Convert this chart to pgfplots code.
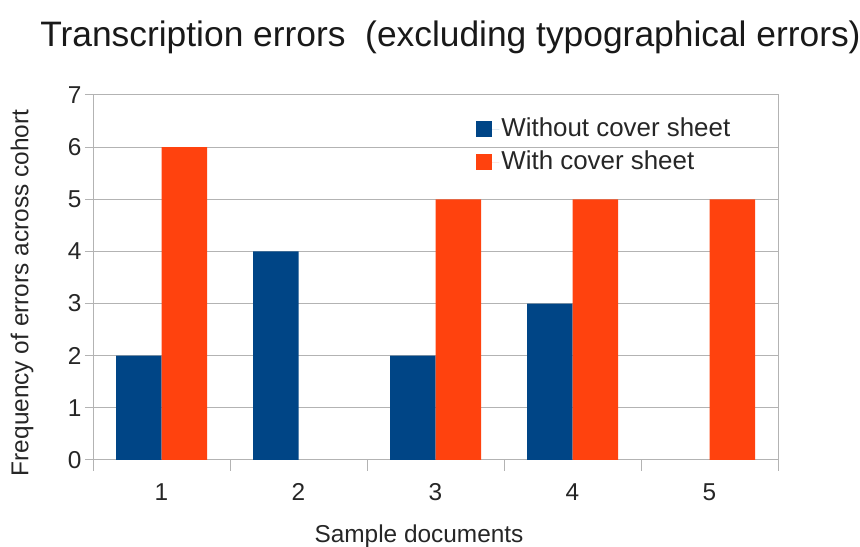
\documentclass[border=0pt]{standalone}
\usepackage{pgfplots}
\pgfplotsset{compat=1.18}
\usepackage{fontspec}
\setmainfont{Liberation Sans}
\definecolor{lblue}{HTML}{004586}
\definecolor{lorange}{HTML}{FF420E}
\definecolor{lgrid}{HTML}{B3B3B3}
\begin{document}
\begin{tikzpicture}[x=1bp,y=1bp]
\useasboundingbox (-93,-87) rectangle (767,460);
\begin{axis}[
  at={(0,0)}, anchor=south west,
  scale only axis, width=685bp, height=365bp,
  xmin=0.5, xmax=5.5, ymin=0, ymax=7,
  ybar=0pt, bar width=45.5bp,
  xtick={1,2,3,4,5},
  minor xtick={0.5,1.5,2.5,3.5,4.5,5.5},
  ytick={0,1,...,7},
  xtick pos=bottom, ytick pos=left,
  major x tick style={draw=none},
  tick align=outside,
  major tick length=8bp,
  minor tick length=11bp,
  every tick/.style={lgrid, line width=1pt},
  axis line style={lgrid, line width=1pt},
  ymajorgrids,
  grid style={lgrid, line width=1pt},
  tick label style={font=\fontsize{24.5}{28}\selectfont, text=black!85},
  xticklabel style={yshift=-12bp},
  /pgf/number format/assume math mode=true,
  legend cell align=left,
  legend style={draw=none, fill=none, at={(0.555,0.95)}, anchor=north west,
    font=\fontsize{26}{30}\selectfont, text=black!85, row sep=5bp,
    nodes={inner sep=2bp, text height=19bp, text depth=5bp}},
  legend image code/.code={\fill[#1] (0bp,-8bp) rectangle (16bp,8bp); \path (0bp,0bp) -- (23bp,0bp);},
  clip=false,
]
\addplot[fill=lblue, draw=none] coordinates {(1,2) (2,4) (3,2) (4,3)};
\addplot[fill=lorange, draw=none] coordinates {(1,6) (3,5) (4,5) (5,5)};
\legend{Without cover sheet, With cover sheet}
\end{axis}
\node[font=\fontsize{35.5}{40}\selectfont, text=black!90] at (357.5,423) {Transcription errors\ \ (excluding typographical errors)};
\node[font=\fontsize{24.5}{28}\selectfont, text=black!85, rotate=90] at (-71,167) {Frequency of errors across cohort};
\node[font=\fontsize{24.5}{28}\selectfont, text=black!85] at (326,-76) {Sample documents};
\end{tikzpicture}
\end{document}
